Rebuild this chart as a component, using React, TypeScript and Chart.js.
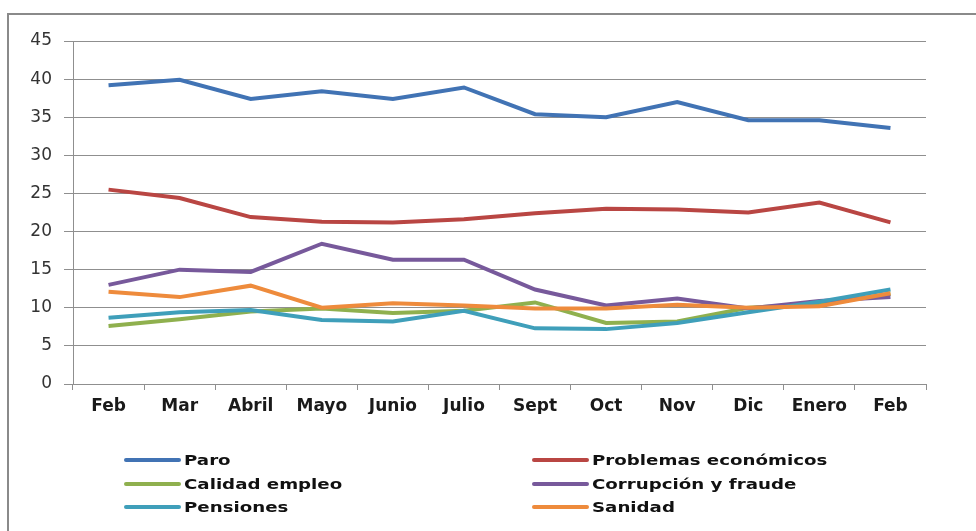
import React, { useEffect, useRef } from "react";
import { Chart, registerables } from "chart.js";

Chart.register(...registerables);

const months = ["Feb", "Mar", "Abril", "Mayo", "Junio", "Julio", "Sept", "Oct", "Nov", "Dic", "Enero", "Feb"];
const paro = [39.2, 39.9, 37.4, 38.4, 37.4, 38.9, 35.4, 35.0, 37.0, 34.6, 34.6, 33.6];
const problemas = [25.5, 24.4, 21.9, 21.3, 21.2, 21.6, 22.4, 23.0, 22.9, 22.5, 23.8, 21.2];
const calidad = [7.6, 8.5, 9.5, 9.9, 9.3, 9.6, 10.7, 8.0, 8.2, 10.0, 10.5, 11.8];
const corrupcion = [13.0, 15.0, 14.7, 18.4, 16.3, 16.3, 12.4, 10.3, 11.2, 9.9, 10.9, 11.4];
const pensiones = [8.7, 9.4, 9.7, 8.4, 8.2, 9.6, 7.3, 7.2, 8.0, 9.4, 10.8, 12.4];
const sanidad = [12.1, 11.4, 12.9, 10.0, 10.6, 10.3, 9.9, 9.9, 10.4, 10.0, 10.2, 11.9];

const seriesNames = ["Paro", "Problemas económicos", "Calidad empleo", "Corrupción y fraude", "Pensiones", "Sanidad"];
const seriesValues = [paro, problemas, calidad, corrupcion, pensiones, sanidad];
const seriesColors = ["#4173B4", "#B94643", "#8FB04E", "#77599B", "#3F9FBA", "#EE8B3C"];

const framePlugin = {
  id: "frame",
  beforeDraw(chart: any) {
    const ctx = chart.ctx;
    ctx.save();
    ctx.fillStyle = "#ffffff";
    ctx.fillRect(0, 0, chart.width, chart.height);
    ctx.strokeStyle = "#8a8a8a";
    ctx.lineWidth = 2;
    ctx.beginPath();
    ctx.moveTo(8, chart.height);
    ctx.lineTo(8, 14);
    ctx.lineTo(chart.width, 14);
    ctx.stroke();
    ctx.restore();
  },
};

const legendPlugin = {
  id: "customLegend",
  afterDraw(chart: any) {
    const ctx = chart.ctx;
    const colX = [124, 532];
    const rowY = [460, 484, 507];
    ctx.save();
    chart.data.datasets.forEach((ds: any, i: number) => {
      const x = colX[i % 2];
      const y = rowY[Math.floor(i / 2)];
      ctx.strokeStyle = ds.borderColor;
      ctx.lineWidth = 4;
      ctx.lineCap = "round";
      ctx.beginPath();
      ctx.moveTo(x + 2, y);
      ctx.lineTo(x + 55, y);
      ctx.stroke();
      ctx.save();
      ctx.translate(x + 60, y);
      ctx.scale(1.3, 1);
      ctx.fillStyle = "#111111";
      ctx.font = 'bold 14px "DejaVu Sans", sans-serif';
      ctx.textBaseline = "middle";
      ctx.textAlign = "left";
      ctx.fillText(ds.label, 0, 1);
      ctx.restore();
    });
    ctx.restore();
  },
};

export default function App() {
  const ref = useRef<HTMLCanvasElement>(null);
  useEffect(() => {
    if (!ref.current) return;
    const chart = new Chart(ref.current, {
      type: "line",
      data: {
        labels: months,
        datasets: seriesNames.map((name, i) => ({
          label: name,
          data: seriesValues[i],
          borderColor: seriesColors[i],
          backgroundColor: seriesColors[i],
          borderWidth: 4,
          pointRadius: 0,
          tension: 0,
          fill: false,
          order: seriesNames.length - i,
        })),
      },
      options: {
        responsive: false,
        animation: false,
        layout: { padding: { top: 41, right: 50, bottom: 117, left: 0 } },
        plugins: {
          legend: { display: false },
          tooltip: { enabled: false },
          title: { display: false },
        },
        scales: {
          x: {
            type: "category",
            offset: true,
            afterFit: (s: any) => {
              s.height = 30;
            },
            grid: {
              offset: true,
              drawOnChartArea: false,
              drawTicks: true,
              tickLength: 6,
              color: "#8f8f8f",
            },
            border: { display: true, color: "#8f8f8f" },
            ticks: {
              padding: 6,
              color: "#1a1a1a",
              maxRotation: 0,
              autoSkip: false,
              font: { family: '"DejaVu Sans", sans-serif', size: 17, weight: "bold" },
            },
          },
          y: {
            min: 0,
            max: 45,
            afterFit: (s: any) => {
              s.width = 73;
            },
            ticks: {
              stepSize: 5,
              padding: 12,
              color: "#333333",
              font: { family: '"DejaVu Sans", sans-serif', size: 17 },
            },
            grid: {
              color: "#8f8f8f",
              lineWidth: 1,
              drawTicks: true,
              tickLength: 9,
            },
            border: { display: true, color: "#8f8f8f" },
          },
        },
      },
      plugins: [framePlugin, legendPlugin],
    });
    return () => chart.destroy();
  }, []);
  return (
    <div style={{ position: "fixed", left: 0, top: 0, width: 976, height: 531, background: "#fff" }}>
      <canvas ref={ref} width={976} height={531} />
    </div>
  );
}
